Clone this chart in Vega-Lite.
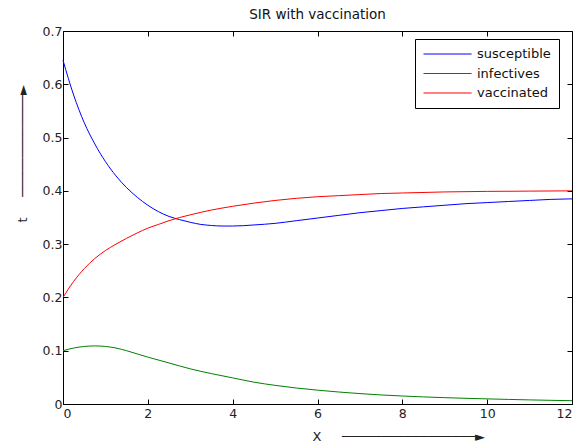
{
  "$schema": "https://vega.github.io/schema/vega-lite/v6.json",
  "width": 509,
  "height": 373,
  "autosize": {"type": "none"},
  "padding": {"left": 63, "top": 31, "right": 12, "bottom": 39},
  "background": "white",
  "config": {
    "font": "DejaVu Sans",
    "view": {"stroke": null},
    "axis": {"grid": false, "domainColor": "#000000", "tickColor": "#000000", "labelColor": "#222222", "labelFontSize": 12.5, "labelFont": "DejaVu Sans", "titleFont": "DejaVu Sans", "titleFontWeight": "normal", "titleFontSize": 13, "titleColor": "#222222"}
  },
  "title": {"text": "SIR with vaccination", "fontSize": 13.5, "fontWeight": "normal", "font": "DejaVu Sans", "color": "#111111", "offset": 4},
  "data": {"values": [
    {"x": 0, "value": 0.645, "series": "susceptible"},
    {"x": 0.25, "value": 0.580, "series": "susceptible"},
    {"x": 0.5, "value": 0.528, "series": "susceptible"},
    {"x": 0.75, "value": 0.488, "series": "susceptible"},
    {"x": 1, "value": 0.455, "series": "susceptible"},
    {"x": 1.25, "value": 0.428, "series": "susceptible"},
    {"x": 1.5, "value": 0.406, "series": "susceptible"},
    {"x": 1.75, "value": 0.388, "series": "susceptible"},
    {"x": 2, "value": 0.373, "series": "susceptible"},
    {"x": 2.25, "value": 0.361, "series": "susceptible"},
    {"x": 2.5, "value": 0.352, "series": "susceptible"},
    {"x": 2.75, "value": 0.346, "series": "susceptible"},
    {"x": 3, "value": 0.341, "series": "susceptible"},
    {"x": 3.25, "value": 0.337, "series": "susceptible"},
    {"x": 3.5, "value": 0.335, "series": "susceptible"},
    {"x": 3.75, "value": 0.334, "series": "susceptible"},
    {"x": 4, "value": 0.334, "series": "susceptible"},
    {"x": 4.5, "value": 0.336, "series": "susceptible"},
    {"x": 5, "value": 0.339, "series": "susceptible"},
    {"x": 5.5, "value": 0.344, "series": "susceptible"},
    {"x": 6, "value": 0.349, "series": "susceptible"},
    {"x": 6.5, "value": 0.354, "series": "susceptible"},
    {"x": 7, "value": 0.359, "series": "susceptible"},
    {"x": 7.5, "value": 0.363, "series": "susceptible"},
    {"x": 8, "value": 0.367, "series": "susceptible"},
    {"x": 8.5, "value": 0.370, "series": "susceptible"},
    {"x": 9, "value": 0.373, "series": "susceptible"},
    {"x": 9.5, "value": 0.376, "series": "susceptible"},
    {"x": 10, "value": 0.378, "series": "susceptible"},
    {"x": 10.5, "value": 0.380, "series": "susceptible"},
    {"x": 11, "value": 0.382, "series": "susceptible"},
    {"x": 11.5, "value": 0.384, "series": "susceptible"},
    {"x": 12, "value": 0.385, "series": "susceptible"},
    {"x": 0, "value": 0.100, "series": "infectives"},
    {"x": 0.25, "value": 0.105, "series": "infectives"},
    {"x": 0.5, "value": 0.108, "series": "infectives"},
    {"x": 0.75, "value": 0.109, "series": "infectives"},
    {"x": 1, "value": 0.108, "series": "infectives"},
    {"x": 1.25, "value": 0.105, "series": "infectives"},
    {"x": 1.5, "value": 0.100, "series": "infectives"},
    {"x": 1.75, "value": 0.094, "series": "infectives"},
    {"x": 2, "value": 0.088, "series": "infectives"},
    {"x": 2.5, "value": 0.077, "series": "infectives"},
    {"x": 3, "value": 0.066, "series": "infectives"},
    {"x": 3.5, "value": 0.057, "series": "infectives"},
    {"x": 4, "value": 0.049, "series": "infectives"},
    {"x": 4.5, "value": 0.041, "series": "infectives"},
    {"x": 5, "value": 0.035, "series": "infectives"},
    {"x": 5.5, "value": 0.030, "series": "infectives"},
    {"x": 6, "value": 0.026, "series": "infectives"},
    {"x": 6.5, "value": 0.0225, "series": "infectives"},
    {"x": 7, "value": 0.0195, "series": "infectives"},
    {"x": 7.5, "value": 0.017, "series": "infectives"},
    {"x": 8, "value": 0.015, "series": "infectives"},
    {"x": 8.5, "value": 0.0133, "series": "infectives"},
    {"x": 9, "value": 0.0119, "series": "infectives"},
    {"x": 9.5, "value": 0.0107, "series": "infectives"},
    {"x": 10, "value": 0.0096, "series": "infectives"},
    {"x": 10.5, "value": 0.0086, "series": "infectives"},
    {"x": 11, "value": 0.0077, "series": "infectives"},
    {"x": 11.5, "value": 0.0069, "series": "infectives"},
    {"x": 12, "value": 0.0062, "series": "infectives"},
    {"x": 0, "value": 0.200, "series": "vaccinated"},
    {"x": 0.25, "value": 0.230, "series": "vaccinated"},
    {"x": 0.5, "value": 0.254, "series": "vaccinated"},
    {"x": 0.75, "value": 0.273, "series": "vaccinated"},
    {"x": 1, "value": 0.288, "series": "vaccinated"},
    {"x": 1.25, "value": 0.300, "series": "vaccinated"},
    {"x": 1.5, "value": 0.311, "series": "vaccinated"},
    {"x": 1.75, "value": 0.321, "series": "vaccinated"},
    {"x": 2, "value": 0.330, "series": "vaccinated"},
    {"x": 2.25, "value": 0.337, "series": "vaccinated"},
    {"x": 2.5, "value": 0.344, "series": "vaccinated"},
    {"x": 2.75, "value": 0.350, "series": "vaccinated"},
    {"x": 3, "value": 0.355, "series": "vaccinated"},
    {"x": 3.5, "value": 0.364, "series": "vaccinated"},
    {"x": 4, "value": 0.371, "series": "vaccinated"},
    {"x": 4.5, "value": 0.377, "series": "vaccinated"},
    {"x": 5, "value": 0.382, "series": "vaccinated"},
    {"x": 5.5, "value": 0.386, "series": "vaccinated"},
    {"x": 6, "value": 0.389, "series": "vaccinated"},
    {"x": 6.5, "value": 0.391, "series": "vaccinated"},
    {"x": 7, "value": 0.393, "series": "vaccinated"},
    {"x": 7.5, "value": 0.395, "series": "vaccinated"},
    {"x": 8, "value": 0.396, "series": "vaccinated"},
    {"x": 9, "value": 0.398, "series": "vaccinated"},
    {"x": 10, "value": 0.399, "series": "vaccinated"},
    {"x": 11, "value": 0.3995, "series": "vaccinated"},
    {"x": 12, "value": 0.400, "series": "vaccinated"}
  ]},
  "layer": [
    {
      "mark": {"type": "line", "strokeWidth": 1, "interpolate": "monotone"},
      "encoding": {
        "x": {"field": "x", "type": "quantitative", "scale": {"domain": [0, 12], "nice": false},
              "axis": {"values": [0, 2, 4, 6, 8, 10, 12], "tickSize": -5, "labelPadding": 8, "labelFontSize": 12.5,
                       "title": "X\u00a0\u00a0\u00a0\u00a0\u00a0─────────────────►", "titleAnchor": "start", "titleAlign": "left", "titleX": 249, "titleY": 32, "titleBaseline": "middle"}},
        "y": {"field": "value", "type": "quantitative", "scale": {"domain": [0, 0.7], "nice": false},
              "axis": {"values": [0, 0.1, 0.2, 0.3, 0.4, 0.5, 0.6, 0.7], "tickSize": -5, "labelPadding": 6, "format": "~g",
                       "title": "t\u00a0\u00a0\u00a0\u00a0\u00a0─────────────►", "titleAnchor": "start", "titleAlign": "left", "titleAngle": 270, "titleX": -41, "titleY": 191, "titleBaseline": "middle"}},
        "color": {"field": "series", "type": "nominal",
                  "scale": {"domain": ["susceptible", "infectives", "vaccinated"], "range": ["#0000ff", "#008000", "#ff0000"]},
                  "legend": {"title": null, "orient": "none", "legendX": 352, "legendY": 8, "strokeColor": "#000000", "fillColor": "#ffffff",
                             "padding": 8, "symbolType": "M-1,0H6.4", "symbolSize": 169, "symbolStrokeWidth": 1, "labelOffset": 40,
                             "labelFontSize": 13, "labelColor": "#111111", "rowPadding": 5.5, "cornerRadius": 0,
                             "encode": {"symbols": {"update": {"stroke": {"scale": "color", "field": "value"}, "fill": {"value": "transparent"}}}}}}
      }
    },
    {
      "mark": {"type": "line", "opacity": 0},
      "encoding": {
        "x": {"field": "x", "type": "quantitative", "scale": {"domain": [0, 12], "nice": false},
              "axis": {"orient": "top", "values": [0, 2, 4, 6, 8, 10, 12], "tickSize": -5, "labels": false, "title": null}},
        "y": {"field": "value", "type": "quantitative", "scale": {"domain": [0, 0.7], "nice": false},
              "axis": {"orient": "right", "values": [0, 0.1, 0.2, 0.3, 0.4, 0.5, 0.6, 0.7], "tickSize": -5, "labels": false, "title": null}},
        "detail": {"field": "series"}
      }
    }
  ],
  "resolve": {"axis": {"x": "independent", "y": "independent"}}
}
